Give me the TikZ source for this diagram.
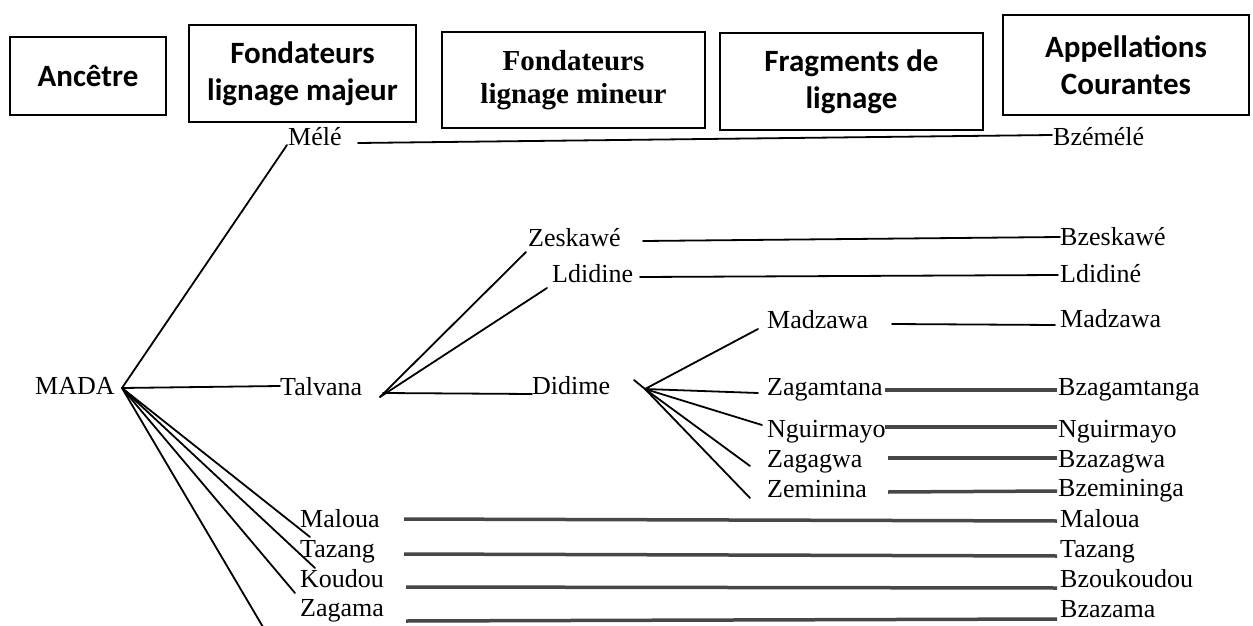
\documentclass[tikz,border=0pt]{standalone}
\usepackage{fontspec}
\setmainfont{Liberation Serif}
\newfontfamily\hdrfont{Carlito}
\begin{document}
\begin{tikzpicture}[x=1pt,y=-1pt,
  hbox/.style={draw, line width=2pt, inner sep=0pt, align=center, font=\hdrfont\bfseries\fontsize{31}{37}\selectfont},
  mbox/.style={hbox, font=\bfseries\fontsize{29}{33}\selectfont},
  lbl/.style={inner sep=0pt, anchor=base west, font=\fontsize{26}{30}\selectfont},
  ln/.style={line width=1.8pt, line cap=round},
  tk/.style={line width=3.5pt, draw=black!72}]
\useasboundingbox (0,0) rectangle (1253,626);
% header boxes
\node[hbox, minimum width=156pt, minimum height=78pt] (hA) at (88,76) {Ancêtre};
\node[hbox, minimum width=227pt, minimum height=97pt] (hB) at (302.5,73.5) {Fondateurs\\lignage majeur};
\node[mbox, minimum width=263pt, minimum height=96pt] (hC) at (573.5,80) {Fondateurs\\lignage mineur};
\node[hbox, minimum width=263pt, minimum height=97pt] (hD) at (851.5,81.5) {Fragments de\\lignage};
\node[hbox, minimum width=246pt, minimum height=100pt] (hE) at (1126,65) {Appellations\\Courantes};
% left labels
\node[lbl] (mada) at (35,394) {MADA};
\node[lbl] (mele) at (288,145) {Mélé};
\node[lbl] (talvana) at (280,395) {Talvana};
\node[lbl] (zeskawe) at (528,246) {Zeskawé};
\node[lbl] (ldidine) at (552,282) {Ldidine};
\node[lbl] (didime) at (532,394) {Didime};
\node[lbl] (madzawaL) at (767,328) {Madzawa};
\node[lbl] (zagamtana) at (767,395) {Zagamtana};
\node[lbl] (nguirmayoL) at (767,437) {Nguirmayo};
\node[lbl] (zagagwa) at (767,467) {Zagagwa};
\node[lbl] (zeminina) at (767,497) {Zeminina};
\node[lbl] (malouaL) at (300,527) {Maloua};
\node[lbl] (tazangL) at (300,557) {Tazang};
\node[lbl] (koudou) at (300,587) {Koudou};
\node[lbl] (zagama) at (300,616) {Zagama};
% right labels
\node[lbl] (bzemele) at (1053,145) {Bzémélé};
\node[lbl] (bzeskawe) at (1060,245) {Bzeskawé};
\node[lbl] (ldidineR) at (1060,282) {Ldidiné};
\node[lbl] (madzawaR) at (1060,327) {Madzawa};
\node[lbl] (bzagamtanga) at (1058,395) {Bzagamtanga};
\node[lbl] (nguirmayoR) at (1058,437) {Nguirmayo};
\node[lbl] (bzazagwa) at (1058,467) {Bzazagwa};
\node[lbl] (bzemininga) at (1058,496) {Bzemininga};
\node[lbl] (malouaR) at (1060,527) {Maloua};
\node[lbl] (tazangR) at (1060,557) {Tazang};
\node[lbl] (bzoukoudou) at (1060,587) {Bzoukoudou};
\node[lbl] (bzazama) at (1060,617) {Bzazama};
% hubs and line ends
\coordinate (h0) at (122,388);
\coordinate (h1) at (383,393);
\coordinate (h1t) at (380,397);
\coordinate (h2) at (645,389);
\coordinate (h2t) at (634,380);
\coordinate (eMele) at (287,145);
\coordinate (eTal) at (280,386);
\coordinate (eMal) at (310,537);
\coordinate (eTaz) at (315,568);
\coordinate (eKou) at (295,593);
\coordinate (eZga) at (263,627);
\coordinate (eZes) at (526,252);
\coordinate (eLdi) at (547,288);
\coordinate (eDid) at (532,394);
\coordinate (eMad) at (758,329);
\coordinate (eZgt) at (758,393);
\coordinate (eNgu) at (762,425);
\coordinate (eZgw) at (750,466);
\coordinate (eZem) at (750,498);
% horizontal line ends
\coordinate (sMele) at (358,143); \coordinate (tMele) at (1052,135);
\coordinate (sZes) at (643,241); \coordinate (tZes) at (1060,237);
\coordinate (sLdi) at (640,277); \coordinate (tLdi) at (1058,275);
\coordinate (sMad) at (892,324); \coordinate (tMad) at (1055,325);
\coordinate (sZgt) at (885,390); \coordinate (tZgt) at (1057,390);
\coordinate (sNgu) at (885,427); \coordinate (tNgu) at (1057,427);
\coordinate (sZgw) at (888,458); \coordinate (tZgw) at (1057,458);
\coordinate (sZem) at (888,492); \coordinate (tZem) at (1057,491);
\coordinate (sMal) at (404,519); \coordinate (tMal) at (1057,521);
\coordinate (sTaz) at (404,554); \coordinate (tTaz) at (1057,556);
\coordinate (sKou) at (406,587); \coordinate (tKou) at (1057,588);
\coordinate (sZga) at (406,621); \coordinate (tZga) at (1057,619);
% tree lines
\draw[ln] (h0) -- (eMele);
\draw[ln] (h0) -- (eTal);
\draw[ln] (h0) -- (eMal);
\draw[ln] (h0) -- (eTaz);
\draw[ln] (h0) -- (eKou);
\draw[ln] (h0) -- (eZga);
\draw[ln] (h1t) -- (eZes);
\draw[ln] (h1t) -- (eLdi);
\draw[ln] (h1) -- (eDid);
\draw[ln] (h2t) -- (h2);
\draw[ln] (h2) -- (eMad);
\draw[ln] (h2) -- (eZgt);
\draw[ln] (h2) -- (eNgu);
\draw[ln] (h2) -- (eZgw);
\draw[ln] (h2) -- (eZem);
% horizontal links
\draw[ln] (sMele) -- (tMele);
\draw[ln] (sZes) -- (tZes);
\draw[ln] (sLdi) -- (tLdi);
\draw[ln] (sMad) -- (tMad);
\draw[tk] (sZgt) -- (tZgt);
\draw[tk] (sNgu) -- (tNgu);
\draw[tk] (sZgw) -- (tZgw);
\draw[tk] (sZem) -- (tZem);
\draw[tk] (sMal) -- (tMal);
\draw[tk] (sTaz) -- (tTaz);
\draw[tk] (sKou) -- (tKou);
\draw[tk] (sZga) -- (tZga);
\end{tikzpicture}
\end{document}
